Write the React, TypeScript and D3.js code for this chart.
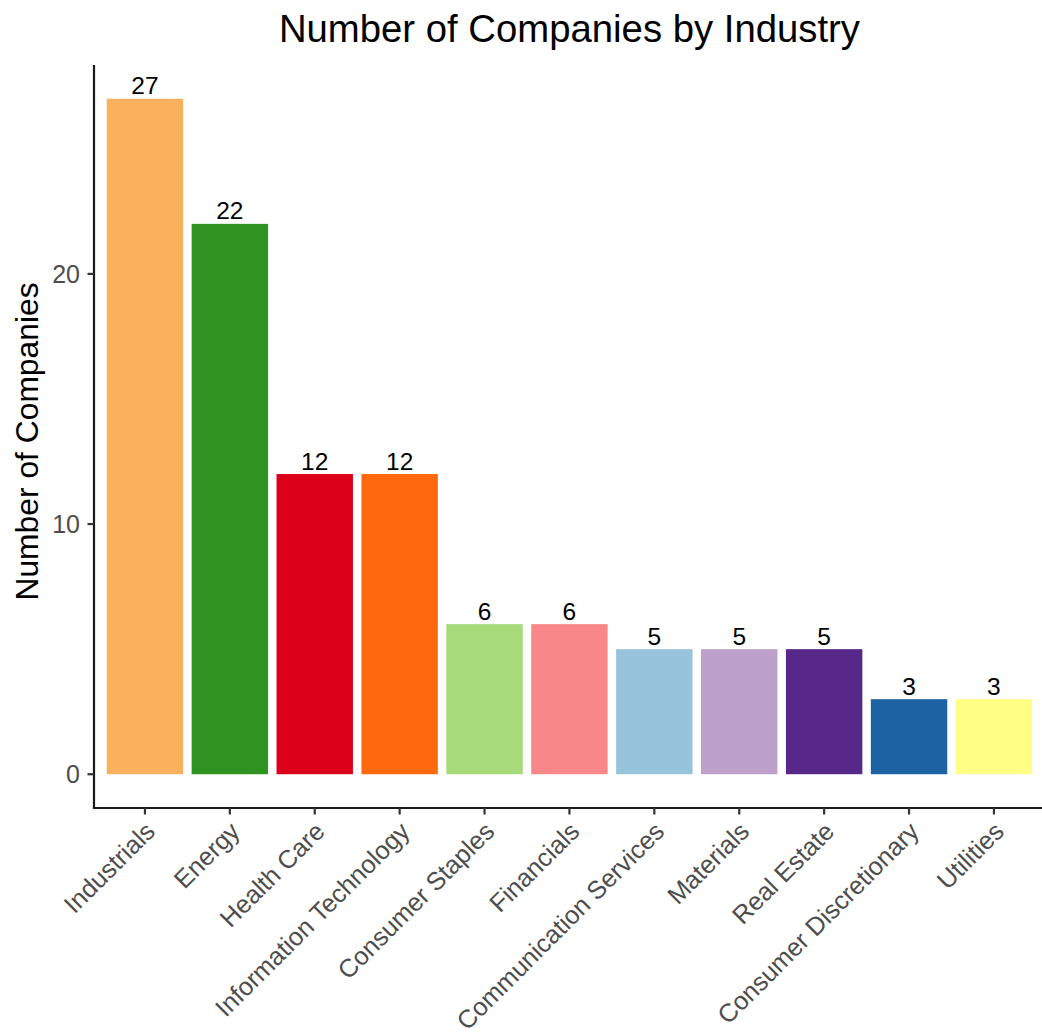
import React from "react";
import * as d3 from "d3";

const categories = [
  "Industrials",
  "Energy",
  "Health Care",
  "Information Technology",
  "Consumer Staples",
  "Financials",
  "Communication Services",
  "Materials",
  "Real Estate",
  "Consumer Discretionary",
  "Utilities",
];
const counts = [27, 22, 12, 12, 6, 6, 5, 5, 5, 3, 3];
const colors = [
  "#F9B15D",
  "#2E9321",
  "#DC001B",
  "#FF690D",
  "#A6DA7A",
  "#F8878A",
  "#97C3DB",
  "#BEA1CB",
  "#572889",
  "#1D63A4",
  "#FFFF86",
];
const yTicks = [0, 10, 20];

const W = 1042;
const H = 1032;
const FONT = "'Liberation Sans', Arial, Helvetica, sans-serif";

export default function App() {
  const left = 94;
  const top = 65;
  const bottom = 808;
  const step = 84.9;
  const right = left + step * 11.2;

  const x = d3
    .scaleBand<string>()
    .domain(categories)
    .range([left, right])
    .paddingInner(0.1)
    .paddingOuter(0.15);
  const maxV = d3.max(counts) as number;
  const y = d3
    .scaleLinear()
    .domain([-0.05 * maxV, maxV * 1.05])
    .range([bottom, top]);

  const tickLen = 6.5;

  return (
    <svg
      width={W}
      height={H}
      style={{ position: "absolute", left: 0, top: 0, background: "#fff" }}
      fontFamily={FONT}
    >
      <rect x={0} y={0} width={W} height={H} fill="#fff" />
      <text x={(left + right) / 2} y={41.5} textAnchor="middle" fontSize={38.3} fill="#000">
        Number of Companies by Industry
      </text>
      {categories.map((c, i) => (
        <g key={c}>
          <rect
            x={x(c)}
            y={y(counts[i])}
            width={x.bandwidth()}
            height={y(0) - y(counts[i])}
            fill={colors[i]}
          />
          <text
            x={(x(c) as number) + x.bandwidth() / 2}
            y={y(counts[i]) - 4.5}
            textAnchor="middle"
            fontSize={24.5}
            fill="#000"
          >
            {counts[i]}
          </text>
        </g>
      ))}
      {/* y axis */}
      <line x1={left} x2={left} y1={top} y2={bottom + 1} stroke="#1a1a1a" strokeWidth={2.2} />
      {yTicks.map((t) => (
        <g key={t}>
          <line x1={left - tickLen} x2={left} y1={y(t)} y2={y(t)} stroke="#333" strokeWidth={2.2} />
          <text
            x={left - tickLen - 7.5}
            y={y(t)}
            dy="0.36em"
            textAnchor="end"
            fontSize={25}
            fill="#4D4D4D"
          >
            {t}
          </text>
        </g>
      ))}
      {/* x axis */}
      <line x1={left - 1.1} x2={right} y1={bottom} y2={bottom} stroke="#1a1a1a" strokeWidth={2.2} />
      {categories.map((c) => {
        const cx = (x(c) as number) + x.bandwidth() / 2;
        return (
          <g key={"t" + c}>
            <line x1={cx} x2={cx} y1={bottom} y2={bottom + tickLen} stroke="#333" strokeWidth={2.2} />
            <text
              transform={`translate(${cx + 11.5},${bottom + 25}) rotate(-45)`}
              textAnchor="end"
              fontSize={25.4}
              fill="#4D4D4D"
            >
              {c}
            </text>
          </g>
        );
      })}
      <text
        transform={`translate(37.5,${(top + bottom) / 2 + 5}) rotate(-90)`}
        textAnchor="middle"
        fontSize={31.8}
        fill="#000"
      >
        Number of Companies
      </text>
    </svg>
  );
}
